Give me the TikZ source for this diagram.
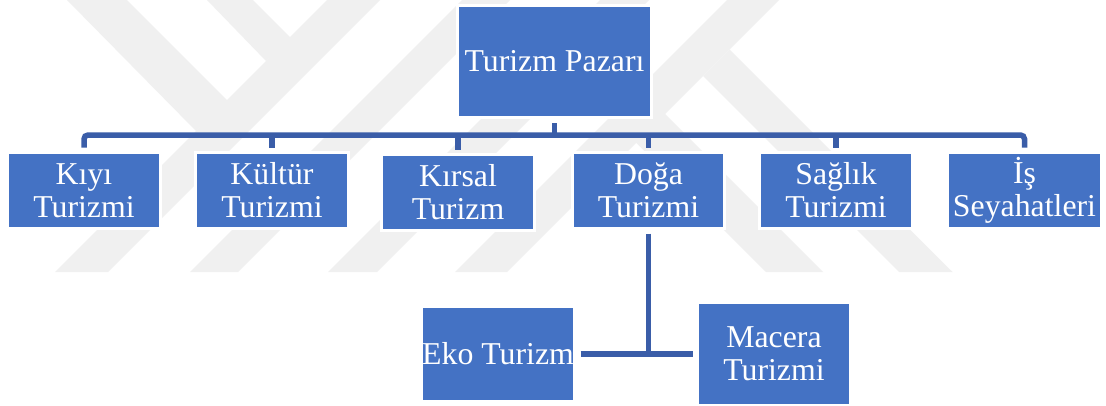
\documentclass[tikz,border=0pt]{standalone}
\usepackage{fontspec}
\setmainfont{Liberation Serif}
\definecolor{boxblue}{HTML}{4472C4}
\definecolor{lineblue}{HTML}{3A5DA8}
\definecolor{wmgray}{HTML}{F0F0F0}
\tikzset{
  wm/.style={fill=wmgray, draw=none},
  box/.style={fill=boxblue, draw=white, line width=3pt, inner sep=0pt,
    text=white, align=center, minimum width=153pt, minimum height=76pt,
    font=\fontsize{31.8}{33}\selectfont},
  conn/.style={draw=lineblue, line width=5.5pt},
}
\begin{document}
\begin{tikzpicture}[x=1pt, y=-1pt]
\useasboundingbox (0,0) rectangle (1106,405);
\fill[white] (0,0) rectangle (1106,405);
% faint watermark
\fill[wm] (55,272) -- (108,272) -- (380,0) -- (327,0) -- cycle;
\fill[wm] (190,272) -- (238,272) -- (510,0) -- (462,0) -- cycle;
\fill[wm] (328,272) -- (377,272) -- (649,0) -- (600,0) -- cycle;
\fill[wm] (455,272) -- (507,272) -- (779,0) -- (727,0) -- cycle;
\fill[wm] (67,0) -- (127,0) -- (228,101) -- (196,131) -- cycle;
\fill[wm] (207,0) -- (253,0) -- (291,38) -- (266,61) -- cycle;
\fill[wm] (571,78) -- (600,49) -- (823,272) -- (766,272) -- cycle;
\fill[wm] (703,76) -- (729.5,49.5) -- (952.5,272) -- (899,272) -- cycle;
% nodes
\node[box, minimum width=194pt, minimum height=112pt] (root) at (554.5,61.5) {Turizm Pazarı};
\node[box] (kiyi)   at (84,190.5)    {Kıyı\\Turizmi};
\node[box] (kultur) at (272,190.5)   {Kültür\\Turizmi};
\node[box] (kirsal) at (458,192.5)   {Kırsal\\Turizm};
\node[box, minimum width=152pt] (doga) at (648.5,190.5) {Doğa\\Turizmi};
\node[box] (saglik) at (836,190.5)   {Sağlık\\Turizmi};
\node[box, minimum width=154pt] (isx) at (1024.5,190.5) {İş\\Seyahatleri};
\node[box, minimum height=95pt] (eko) at (498,354) {Eko Turizm};
\node[box, minimum height=103pt] (macera) at (774,354) {Macera\\Turizmi};
\coordinate (busy) at (0,135);
% connectors
\draw[conn, shorten <=4pt] (root.south) -- (root.south |- busy);
\draw[conn, rounded corners=4pt, shorten <=3.5pt, shorten >=3.5pt]
  (kiyi.north) -- (kiyi.north |- busy) -- (isx.north |- busy) -- (isx.north);
\foreach \n in {kultur,kirsal,doga,saglik}
  \draw[conn, shorten >=3.5pt] (\n.north |- busy) -- (\n.north);
\draw[conn, shorten <=3.5pt] (doga.south) -- (doga.south |- eko.east);
\draw[conn, shorten <=4.5pt, shorten >=3.5pt] (eko.east) -- (macera.west);
\end{tikzpicture}
\end{document}
